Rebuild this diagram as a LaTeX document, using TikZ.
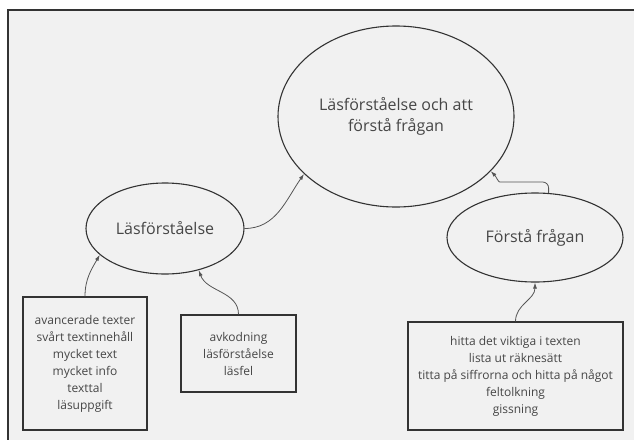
\documentclass[tikz,border=0pt]{standalone}
\usepackage{fontspec}
\setmainfont{Open Sans}
\usetikzlibrary{shapes.geometric,arrows.meta}
\definecolor{bggray}{HTML}{F1F1F1}
\definecolor{linegray}{HTML}{333333}
\definecolor{textgray}{HTML}{464646}
\definecolor{arrowgray}{HTML}{555555}
\begin{document}
\begin{tikzpicture}[x=1pt, y=1pt,
    bubble/.style={ellipse, draw=linegray, line width=1.1pt, inner sep=0pt, text=textgray, align=center},
    listbox/.style={rectangle, draw=linegray, line width=1.1pt, inner sep=0pt, text=textgray, align=center, font=\fontsize{12}{17}\selectfont},
    link/.style={draw=arrowgray, line width=0.8pt, -{Latex[length=6pt,width=4pt]}}]
    \useasboundingbox (0,0) rectangle (634,-439);
    \clip (0,0) rectangle (634,-439);

    % The frame
    \draw[line width=2pt, draw=linegray, fill=bggray] (7.5,-10) rectangle (660,-470);

    % The main question
    \node[bubble, minimum width=236, minimum height=181, font=\fontsize{16}{21}\selectfont] (main) at (396,-116.5)
        {Läsförståelse och att\\förstå frågan};

    % The two parts
    \node[bubble, minimum width=158, minimum height=91, font=\fontsize{16}{20}\selectfont] (las) at (165,-228.5) {Läsförståelse};
    \node[bubble, minimum width=176, minimum height=89, font=\fontsize{16}{20}\selectfont] (fq) at (535,-237.5) {Förstå frågan};

    % The lists
    \node[listbox, minimum width=124, minimum height=133] (lbox) at (85,-363.5)
        {avancerade texter\\svårt textinnehåll\\mycket text\\mycket info\\texttal\\läsuppgift};
    \node[listbox, minimum width=115, minimum height=77] (mbox) at (238.5,-353.5)
        {avkodning\\läsförståelse\\läsfel};
    \node[listbox, minimum width=215, minimum height=108] (rbox) at (515.5,-376)
        {hitta det viktiga i texten\\lista ut räknesätt\\titta på siffrorna och hitta på något\\feltolkning\\gissning};

    % The arrows
    \draw[link] (las.east) to[out=0, in=235] (main.212);
    \draw[link, rounded corners=6pt] (fq.73.5) -- ++(0,11) -- ++(-43,0) to[out=180, in=-45] (main.330.7);
    \draw[link] (lbox.north) to[out=90, in=240] (las.202.7);
    \draw[link] (mbox.north) to[out=90, in=290] (las.309.6);
    \draw[link] (rbox.north) to[out=90, in=-90] (fq.south);
\end{tikzpicture}
\end{document}
